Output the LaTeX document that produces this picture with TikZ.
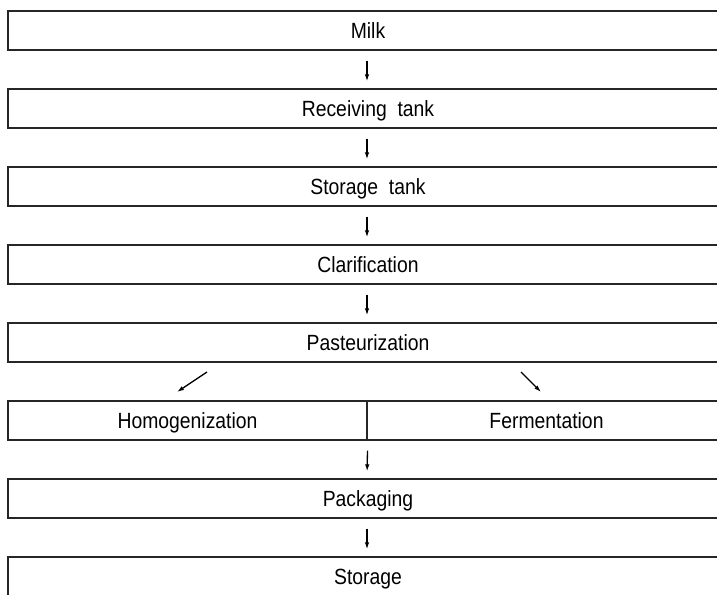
\documentclass[tikz,border=0pt]{standalone}
\usepackage{fontspec}
\setmainfont{Liberation Sans}[FakeStretch=0.88]
\usetikzlibrary{arrows.meta}
\begin{document}
\begin{tikzpicture}[x=1pt,y=-1pt,
  stagebox/.style={draw=black!85, line width=1.3pt, rectangle, inner sep=0pt,
    minimum height=39pt, text height=16pt, text depth=0pt,
    font=\fontsize{22}{26}\selectfont},
  fullbox/.style={stagebox, minimum width=720pt},
  halfbox/.style={stagebox, minimum width=359pt},
  flow/.style={draw=black, line width=1.3pt, -{Latex[length=7pt,width=4.5pt]}}]
\useasboundingbox (0,0) rectangle (717,594);
\node[fullbox] (milk) at (368,30.5) {Milk};
\node[fullbox] (recv) at (368,108.5) {Receiving\ \ tank};
\node[fullbox] (stor) at (368,186.5) {Storage\ \ tank};
\node[fullbox] (clar) at (368,264.5) {Clarification};
\node[fullbox] (past) at (368,342.5) {Pasteurization};
\node[halfbox] (homo) at (187.5,420.5) {Homogenization};
\node[halfbox] (ferm) at (546.5,420.5) {Fermentation};
\node[fullbox] (pack) at (368,498.5) {Packaging};
\node[fullbox] (store) at (368,576.5) {Storage};
\coordinate (ls) at (207,372);
\coordinate (le) at (177,392);
\coordinate (rs) at (521,372);
\coordinate (re) at (541,392);
\foreach \a/\b in {milk/recv, recv/stor, stor/clar, clar/past, pack/store}
  \draw[flow, shorten <=10pt, shorten >=7pt] ([xshift=-1pt]\a.south) -- ([xshift=-1pt]\b.north);
\draw[flow] (ls) -- (le);
\draw[flow] (rs) -- (re);
\draw[flow, shorten <=10pt, shorten >=7pt] (homo.south east) -- ([xshift=-1pt]pack.north);
\end{tikzpicture}
\end{document}
